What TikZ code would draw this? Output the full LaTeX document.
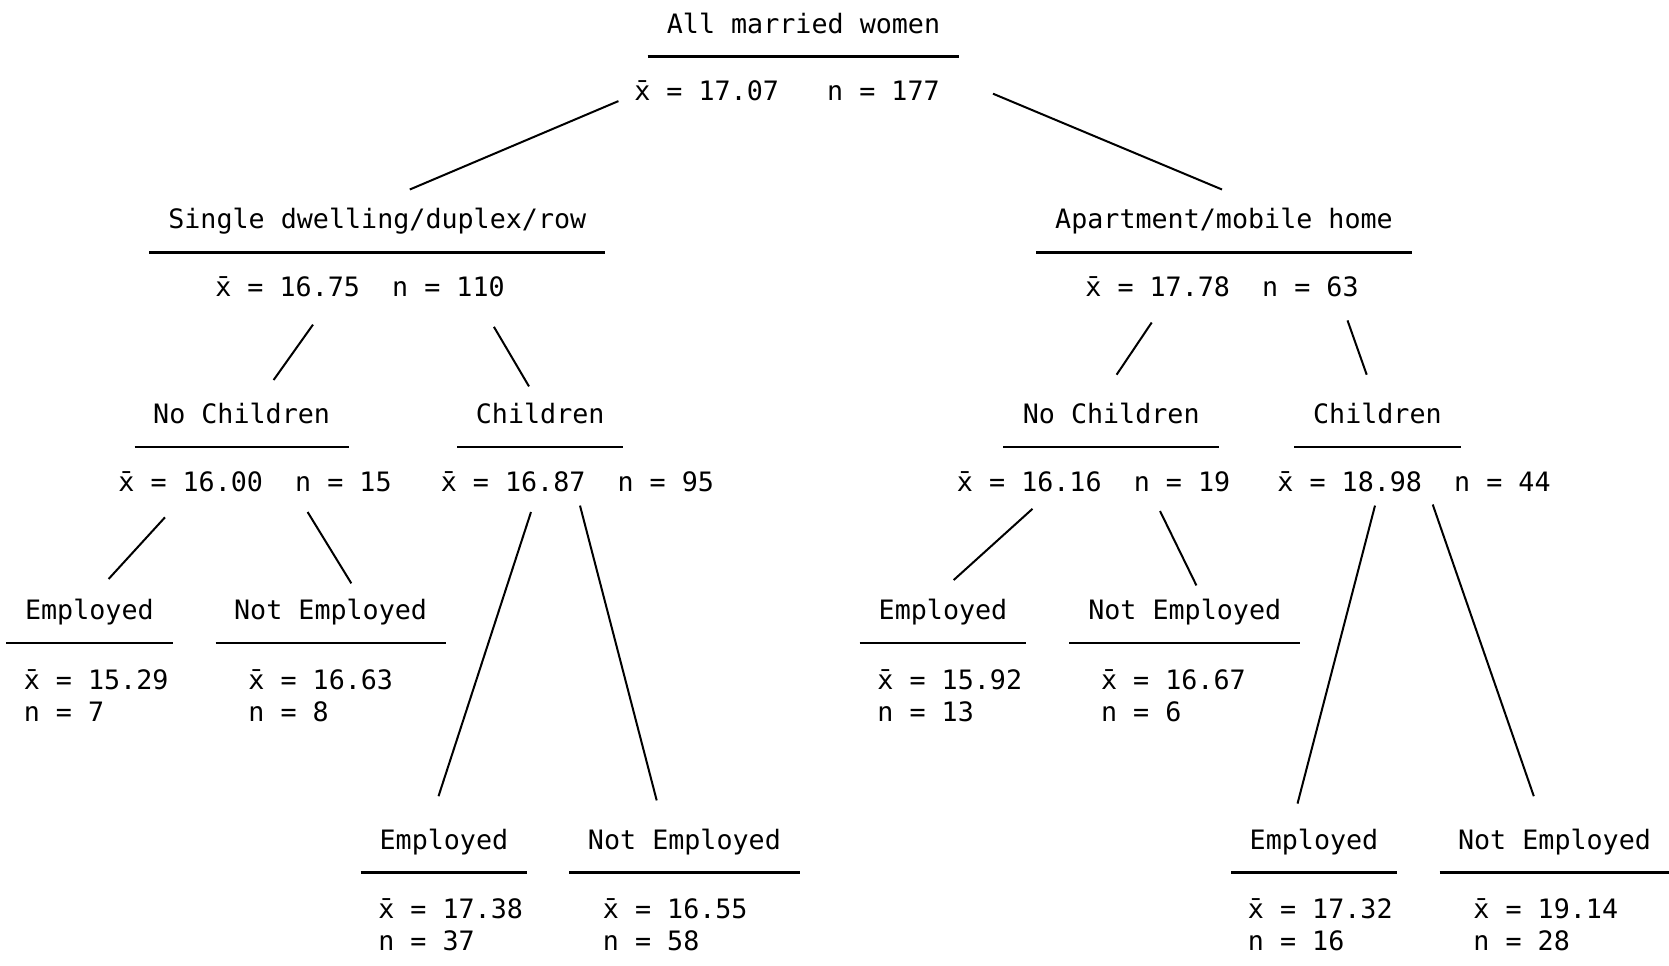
\documentclass[tikz,border=0pt]{standalone}
\usepackage{fontspec}
\setmonofont{DejaVu Sans Mono}
\usetikzlibrary{calc}
\newcommand{\xbar}{x̄}
\newcommand{\leafstats}[2]{\begin{tabular}[t]{@{}l@{}}\xbar{} = #1\\n = #2\end{tabular}}

\begin{document}
\begin{tikzpicture}[x=0.5pt, y=-0.5pt,
    every node/.style={font=\fontsize{13.35pt}{16pt}\selectfont\ttfamily, inner sep=0pt},
    head/.style={anchor=south, minimum width=#1*0.5pt, inner ysep=11.5pt, text depth=0pt},
    stats/.style={anchor=base},
    leaf/.style={anchor=base west},
    rule/.style={line width=1.4pt},
    branch/.style={line width=1pt}
  ]
    \useasboundingbox (0,0) rectangle (1669,965);

    % root
    \node[head=311] (t0) at (803.5,56.4) {All married women};
    \node[stats] (s0) at (787,100.5) {\xbar{} = 17.07\ \ \ n = 177};

    % dwelling type
    \node[head=455] (tA) at (377.3,252.3) {Single dwelling/duplex/row};
    \node[stats] (sA) at (360,296.3) {\xbar{} = 16.75\ \ n = 110};
    \node[head=375] (tB) at (1224,252.3) {Apartment/mobile home};
    \node[stats] (sB) at (1222,296.3) {\xbar{} = 17.78\ \ n = 63};

    % children
    \node[head=213] (tAn) at (241.6,447) {No Children};
    \node[stats] (sAn) at (255,491) {\xbar{} = 16.00\ \ n = 15};
    \node[head=165] (tAc) at (540.2,447) {Children};
    \node[stats] (sAc) at (577.4,491) {\xbar{} = 16.87\ \ n = 95};
    \node[head=215] (tBn) at (1111.2,447) {No Children};
    \node[stats] (sBn) at (1093.6,491) {\xbar{} = 16.16\ \ n = 19};
    \node[head=166] (tBc) at (1377.4,447) {Children};
    \node[stats] (sBc) at (1414,491) {\xbar{} = 18.98\ \ n = 44};

    % employment
    \node[head=166] (tAne) at (89.4,643) {Employed};
    \node[leaf] (sAne) at (23.4,689) {\leafstats{15.29}{7}};
    \node[head=229] (tAnu) at (330.6,643) {Not Employed};
    \node[leaf] (sAnu) at (248,689) {\leafstats{16.63}{8}};
    \node[head=166] (tBne) at (943,643) {Employed};
    \node[leaf] (sBne) at (877,689) {\leafstats{15.92}{13}};
    \node[head=230] (tBnu) at (1184.7,643) {Not Employed};
    \node[leaf] (sBnu) at (1100.6,689) {\leafstats{16.67}{6}};

    \node[head=166] (tAce) at (443.9,872.8) {Employed};
    \node[leaf] (sAce) at (377.9,918) {\leafstats{17.38}{37}};
    \node[head=230] (tAcu) at (684.4,872.8) {Not Employed};
    \node[leaf] (sAcu) at (602.5,918) {\leafstats{16.55}{58}};
    \node[head=165] (tBce) at (1314,872.8) {Employed};
    \node[leaf] (sBce) at (1247.5,918) {\leafstats{17.32}{16}};
    \node[head=229] (tBcu) at (1554.5,872.8) {Not Employed};
    \node[leaf] (sBcu) at (1473,918) {\leafstats{19.14}{28}};

    \foreach \n in {t0,tA,tB,tAn,tAc,tBn,tBc,tAne,tAnu,tBne,tBnu,tAce,tAcu,tBce,tBcu}
      \draw[rule] (\n.south west) -- (\n.south east);

    % branches
    \draw[branch] ([shift={(-168.6,0.6)}]s0.base) -- ([shift={(32.5,-62.8)}]tA.south);
    \draw[branch] ([shift={(206,-6.8)}]s0.base) -- ([shift={(-2,-62.8)}]tB.south);

    \draw[branch] ([shift={(-47,28.3)}]sA.base) -- ([shift={(32,-67)}]tAn.south);
    \draw[branch] ([shift={(133.9,30.5)}]sA.base) -- ([shift={(-11.2,-60.6)}]tAc.south);
    \draw[branch] ([shift={(-70.3,26.2)}]sB.base) -- ([shift={(5.4,-72.3)}]tBn.south);
    \draw[branch] ([shift={(125.5,24.1)}]sB.base) -- ([shift={(-10.7,-72.3)}]tBc.south);

    \draw[branch] ([shift={(-90,26.3)}]sAn.base) -- ([shift={(19.2,-64)}]tAne.south);
    \draw[branch] ([shift={(52.6,21)}]sAn.base) -- ([shift={(20.7,-59.7)}]tAnu.south);
    \draw[branch] ([shift={(-46.4,21)}]sAc.base) -- ([shift={(-5.4,-76.6)}]tAce.south);
    \draw[branch] ([shift={(2.6,14.6)}]sAc.base) -- ([shift={(-27.7,-72.4)}]tAcu.south);
    \draw[branch] ([shift={(-61.1,17.8)}]sBn.base) -- ([shift={(10.7,-63)}]tBne.south);
    \draw[branch] ([shift={(66.4,20)}]sBn.base) -- ([shift={(11.7,-57.6)}]tBnu.south);
    \draw[branch] ([shift={(-39,14.6)}]sBc.base) -- ([shift={(-16.5,-69.2)}]tBce.south);
    \draw[branch] ([shift={(18.7,13.5)}]sBc.base) -- ([shift={(-20.7,-76.6)}]tBcu.south);
\end{tikzpicture}
\end{document}
